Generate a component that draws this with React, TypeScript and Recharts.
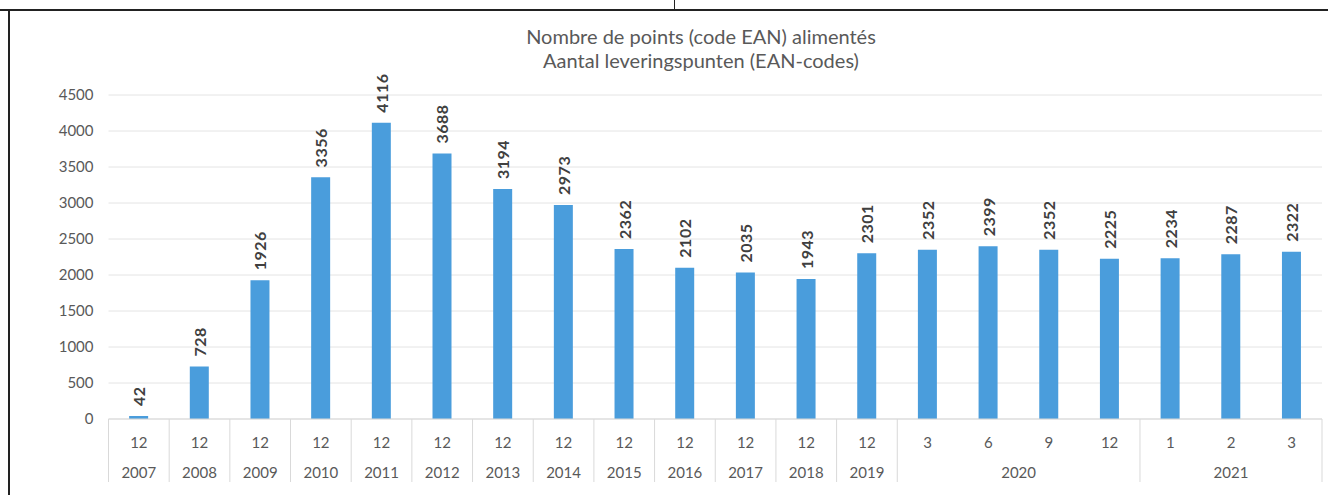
import { Bar, BarChart, CartesianGrid, LabelList, XAxis, YAxis } from "recharts";

const months = ["12", "12", "12", "12", "12", "12", "12", "12", "12", "12", "12", "12", "12", "3", "6", "9", "12", "1", "2", "3"];
const years = [
  "2007", "2008", "2009", "2010", "2011", "2012", "2013", "2014", "2015", "2016",
  "2017", "2018", "2019", "2020", "2020", "2020", "2020", "2021", "2021", "2021",
];
const points = [42, 728, 1926, 3356, 4116, 3688, 3194, 2973, 2362, 2102, 2035, 1943, 2301, 2352, 2399, 2352, 2225, 2234, 2287, 2322];
const yTicks = [0, 500, 1000, 1500, 2000, 2500, 3000, 3500, 4000, 4500];

const titleFr = "Nombre de points (code EAN) alimentés";
const titleNl = "Aantal leveringspunten (EAN-codes)";

const data = points.map((value, i) => ({ key: `${years[i]}-${months[i]}-${i}`, month: months[i], year: years[i], value }));

const font = "Lato, 'Open Sans', sans-serif";
const textGray = "#595959";
const lineGray = "#d9d9d9";
const barBlue = "#4a9ddc";

function CategoryTick(props: any) {
  const { x, y, index, width, visibleTicksCount } = props;
  const band = width && visibleTicksCount ? width / visibleTicksCount : 60.7;
  const row = data[index];
  if (!row) return null;
  const first = index === 0 || data[index - 1].year !== row.year;
  const last = index === data.length - 1;
  let groupLen = 0;
  for (let j = index; j < data.length && data[j].year === row.year; j++) groupLen++;
  const sep = { stroke: lineGray, strokeWidth: 1 };
  return (
    <g>
      <text x={x} y={y + 23} textAnchor="middle" dominantBaseline="central" fill={textGray} fontSize={15} fontFamily={font}>
        {row.month}
      </text>
      {first && (
        <text x={x + ((groupLen - 1) * band) / 2} y={y + 53} textAnchor="middle" dominantBaseline="central" fill={textGray} fontSize={15} fontFamily={font}>
          {row.year}
        </text>
      )}
      {first && <line x1={x - band / 2} x2={x - band / 2} y1={y} y2={y + 63} {...sep} />}
      {last && <line x1={x + band / 2} x2={x + band / 2} y1={y} y2={y + 63} {...sep} />}
    </g>
  );
}

function ValueLabel(props: any) {
  const { x, y, width, value } = props;
  const cx = x + width / 2;
  const ty = y - 10;
  return (
    <text
      x={cx}
      y={ty}
      transform={`rotate(-90, ${cx}, ${ty})`}
      textAnchor="start"
      dominantBaseline="central"
      fill="#404040"
      fontSize={16}
      fontWeight="bold"
      letterSpacing={0.5}
      fontFamily={font}
    >
      {value}
    </text>
  );
}

export default function App() {
  return (
    <div style={{ position: "absolute", left: 0, top: 0, width: 1328, height: 495, background: "#fff", fontFamily: font }}>
      <div style={{ position: "absolute", left: 0, top: 9, width: 1328, height: 2, background: "#222" }} />
      <div style={{ position: "absolute", left: 674, top: 0, width: 1, height: 10, background: "#222" }} />
      <div style={{ position: "absolute", left: 8, top: 9, width: 2, height: 486, background: "#222" }} />
      <div style={{ position: "absolute", left: 0, width: 1402, top: 24, textAlign: "center", color: textGray, fontSize: 20, lineHeight: "24px" }}>
        <div>{titleFr}</div>
        <div>{titleNl}</div>
      </div>
      <div style={{ position: "absolute", left: 0, top: 0 }}>
        <BarChart width={1328} height={495} data={data} margin={{ top: 95, right: 6, bottom: 0, left: 8.5 }} barCategoryGap="34%">
          <CartesianGrid vertical={false} stroke="#e4e4e4" />
          <XAxis
            dataKey="key"
            height={76}
            interval={0}
            tickLine={false}
            tickSize={0}
            tickMargin={0}
            axisLine={{ stroke: lineGray }}
            tick={<CategoryTick />}
          />
          <YAxis
            width={100}
            domain={[0, 4500]}
            ticks={yTicks}
            interval={0}
            tickLine={false}
            axisLine={false}
            tickSize={0}
            tickMargin={15}
            tick={{ fill: textGray, fontSize: 15, fontFamily: font }}
          />
          <Bar dataKey="value" fill={barBlue} isAnimationActive={false}>
            <LabelList dataKey="value" content={<ValueLabel />} />
          </Bar>
        </BarChart>
      </div>
    </div>
  );
}
